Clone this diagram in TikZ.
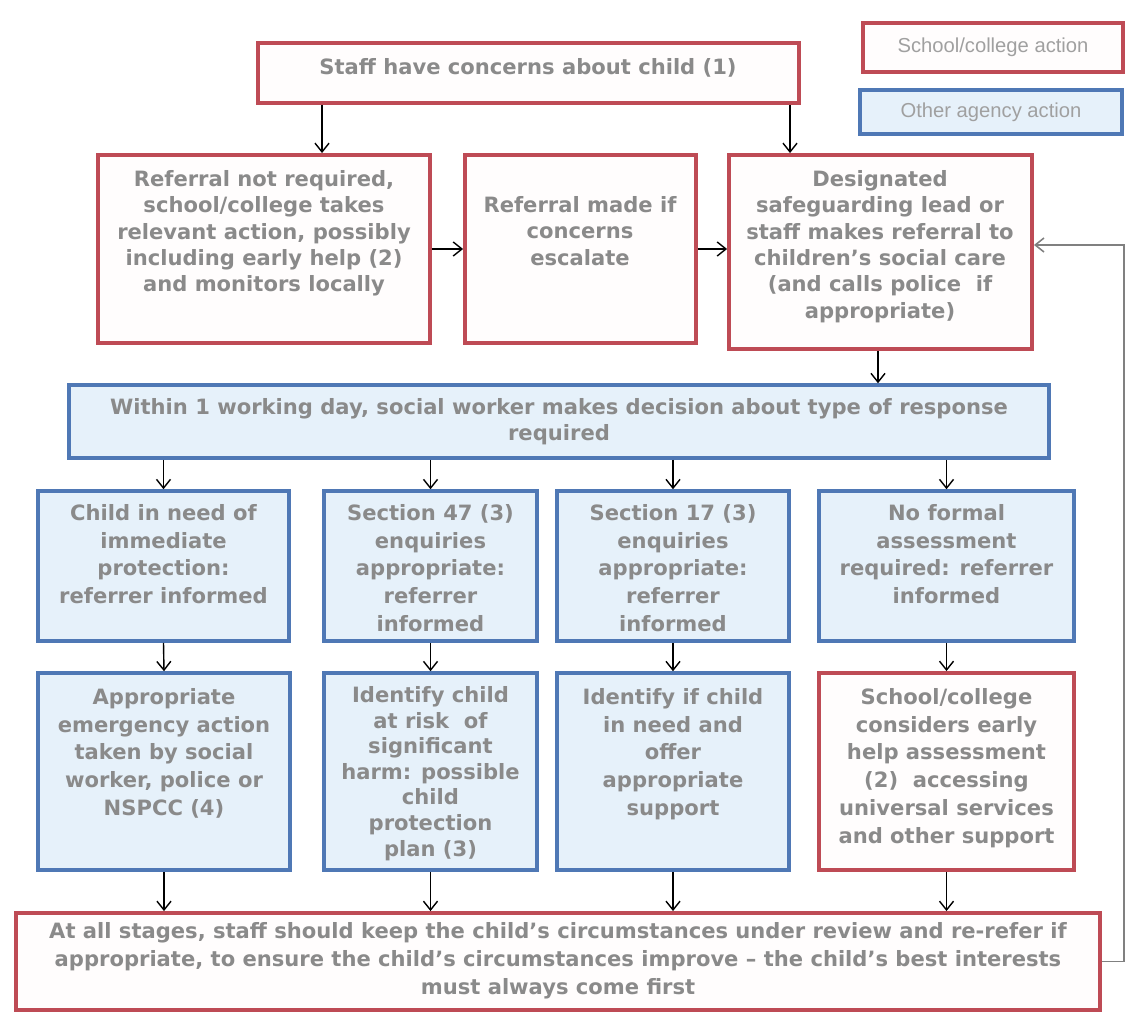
\documentclass[tikz,border=0pt]{standalone}
\usepackage{fontspec}
\setmainfont{DejaVu Sans}
\newfontfamily\legfont{Liberation Sans}
\usetikzlibrary{arrows.meta}
\definecolor{redb}{HTML}{BE4B55}
\definecolor{blueb}{HTML}{4F78B5}
\definecolor{bluef}{HTML}{E6F1FA}
\definecolor{redf}{HTML}{FFFDFD}
\definecolor{txtg}{HTML}{8A8A8A}
\definecolor{legg}{HTML}{A0A0A0}
\definecolor{fbg}{HTML}{808080}
\tikzset{
  schoolbox/.style={draw=redb, line width=2.2pt, fill=redf, rectangle, inner sep=0pt},
  agencybox/.style={draw=blueb, line width=2pt, fill=bluef, rectangle, inner sep=0pt},
  txt/.style={font=\fontsize{12}{15}\selectfont\bfseries, text=txtg, align=center, inner sep=0pt},
  txtw/.style={font=\fontsize{12}{15.8}\selectfont\bfseries, text=txtg, align=center, inner sep=0pt},
  txtn/.style={font=\fontsize{12}{14.6}\selectfont\bfseries, text=txtg, align=center, inner sep=0pt},
  legtxt/.style={font=\legfont\fontsize{11.5}{14}\selectfont, text=legg, inner sep=0pt},
  arr/.style={draw=black, line width=0.8pt, -{Straight Barb[length=5pt,width=8pt]}},
  fbline/.style={draw=fbg, line width=0.9pt, -{Straight Barb[length=5pt,width=8pt]}}
}
\newcommand\bx[6]{%
  \pgfmathsetmacro\bw{(#4-#2)*0.02}%
  \pgfmathsetmacro\bh{(#5-#3)*0.02}%
  \node[#6, minimum width=\bw cm, minimum height=\bh cm] (#1) at ({(#2+#4)/2},{(#3+#5)/2}) {};}
\begin{document}
\begin{tikzpicture}[x=0.02cm,y=-0.02cm]
\useasboundingbox (0,0) rectangle (1142,1013);
% boxes
\bx{top}{258}{43}{799}{103}{schoolbox}
\bx{leg1}{863}{23}{1123}{72}{schoolbox}
\bx{leg2}{860}{90}{1122}{134}{agencybox}
\bx{b21}{98}{155}{430}{343}{schoolbox}
\bx{b22}{465}{155}{696}{343}{schoolbox}
\bx{desig}{729}{155}{1032}{349}{schoolbox}
\bx{within}{69}{385}{1049}{458}{agencybox}
\bx{b31}{38}{491}{289}{641}{agencybox}
\bx{b32}{324}{491}{537}{641}{agencybox}
\bx{b33}{557}{491}{789}{641}{agencybox}
\bx{b34}{819}{491}{1074}{641}{agencybox}
\bx{b41}{38}{673}{290}{870}{agencybox}
\bx{b42}{324}{673}{537}{870}{agencybox}
\bx{b43}{557}{673}{789}{870}{agencybox}
\bx{b44}{819}{673}{1074}{870}{schoolbox}
\bx{bot}{16}{913}{1100}{1010}{schoolbox}
% texts
\node[legtxt] (tl1) at (leg1.center) {School/college action};
\node[legtxt] (tl2) at (leg2.center) {Other agency action};
\node[txt] (ttop) at (528,68) {Staff have concerns about child (1)};
\node[txt, anchor=north] (t21) at (264,170) {Referral not required,\\school/college takes\\relevant action, possibly\\including early help (2)\\and monitors locally};
\node[txt, anchor=north] (t22) at (580,196) {Referral made if\\concerns\\escalate};
\node[txt, anchor=north] (tdes) at (880,170) {Designated\\safeguarding lead or\\staff makes referral to\\children's social care\\(and calls police\ \ if\\appropriate)};
\node[txt] (twin) at (559,422) {Within 1 working day, social worker makes decision about type of response\\required};
\node[txtw, anchor=north] (t31) at (163.5,504) {Child in need of\\immediate\\protection:\\referrer informed};
\node[txtw, anchor=north] (t32) at (430.5,504) {Section 47 (3)\\enquiries\\appropriate:\\referrer\\informed};
\node[txtw, anchor=north] (t33) at (673,504) {Section 17 (3)\\enquiries\\appropriate:\\referrer\\informed};
\node[txtw, anchor=north] (t34) at (946.5,504) {No formal\\assessment\\required: referrer\\informed};
\node[txtw, anchor=north] (t41) at (164,688) {Appropriate\\emergency action\\taken by social\\worker, police or\\NSPCC (4)};
\node[txtn, anchor=north] (t42) at (430.5,686) {Identify child\\at risk\ \ of\\significant\\harm: possible\\child\\protection\\plan (3)};
\node[txtw, anchor=north] (t43) at (673,688) {Identify if child\\in need and\\offer\\appropriate\\support};
\node[txtw, anchor=north] (t44) at (946.5,688) {School/college\\considers early\\help assessment\\(2)\ \ accessing\\universal services\\and other support};
\node[txtw] (tbot) at (558,961) {At all stages, staff should keep the child's circumstances under review and re-refer if\\appropriate, to ensure the child's circumstances improve -- the child's best interests\\must always come first};
% helper coordinates
\coordinate (c1) at (322,0);
\coordinate (c2) at (790,0);
\coordinate (c3) at (878,0);
\coordinate (fbtop) at (1124,245);
% connectors
\draw[arr] (c1 |- top.south) -- (c1 |- b21.north);
\draw[arr] (c2 |- top.south) -- (c2 |- desig.north);
\draw[arr] (b21.east) -- (b22.west);
\draw[arr] (b22.east) -- (desig.west |- b22.east);
\draw[arr] (c3 |- desig.south) -- (c3 |- within.north);
\foreach \b in {b31,b32,b33,b34}{
  \draw[arr] (\b.north |- within.south) -- (\b.north);
}
\draw[arr] (b31.south) -- (b41.north);
\draw[arr] (b32.south) -- (b42.north);
\draw[arr] (b33.south) -- (b43.north);
\draw[arr] (b34.south) -- (b44.north);
\foreach \b in {b41,b42,b43,b44}{
  \draw[arr] (\b.south) -- (\b.south |- bot.north);
}
\draw[fbline] (bot.east) -| (fbtop) -- (desig.east |- fbtop);
\end{tikzpicture}
\end{document}
